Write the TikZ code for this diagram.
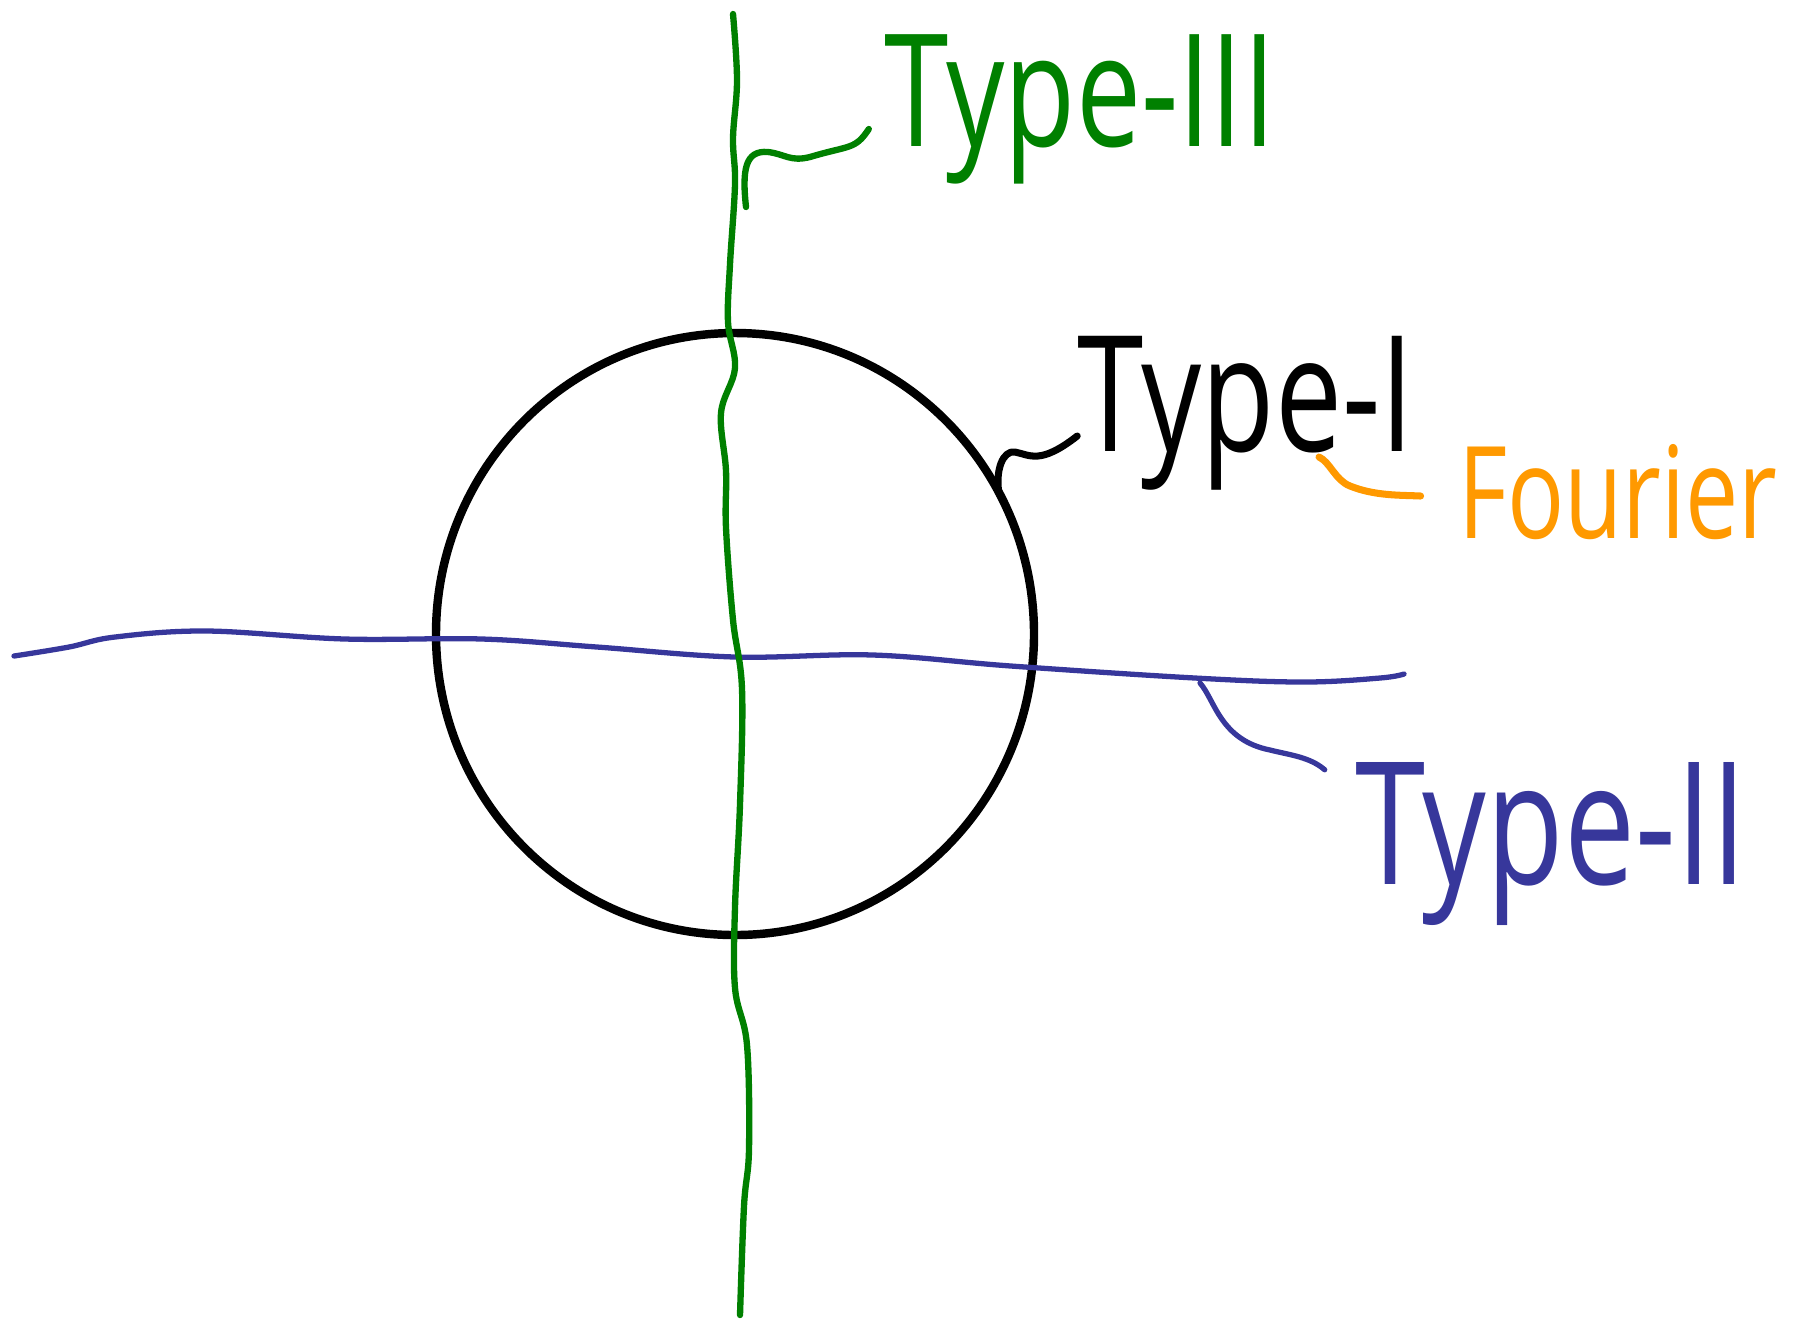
\documentclass[tikz,border=0pt]{standalone}
\usepackage{fontspec}
\setmainfont{Open Sans}
\usepackage{graphicx}
\usepackage{tikz}
\usetikzlibrary{calc}
\definecolor{sketchgreen}{RGB}{0,128,0}
\definecolor{sketchblue}{RGB}{55,55,155}
\definecolor{sketchorange}{RGB}{255,153,0}
\newcommand{\tall}[1]{\scalebox{1}[1.35]{#1}}
\tikzset{
  pen/.style={line cap=round, line join=round},
  hand/.style={inner sep=0pt, font=\fontsize{#1}{#1}\selectfont},
  hand/.default=32
}

\begin{document}
\begin{tikzpicture}[x=0.01cm, y=-0.01cm]
  \useasboundingbox (0,0) rectangle (1801,1320);
  % Unit circle
  \draw[pen, line width=2.4pt] (735,634) ellipse (299 and 301);

  % Real axis, slightly wavy
  \draw[pen, sketchblue, line width=1.5pt] plot[smooth, tension=0.6] coordinates {
    (14,656) (69,647) (115,637) (207,631) (345,639) (482,639) (597,647)
    (735,657) (873,655) (1011,666) (1195,678) (1304,682) (1380,678) (1404,674)};

  % Imaginary axis, slightly wavy
  \draw[pen, sketchgreen, line width=1.8pt] plot[smooth, tension=0.6] coordinates {
    (733,14) (737,80) (733,138) (735,184) (730,264) (728,322) (735,368)
    (721,413) (726,471) (726,528) (733,620) (742,689) (740,804) (735,907)
    (735,988) (747,1045) (749,1149) (744,1206) (740,1315)};

  % Labels
  \node[hand=33, sketchgreen] (typeIII) at (1080,109) {\tall{Type-III}};
  \node[hand=34] (typeI) at (1246,413) {\tall{Type-I}};
  \node[hand=27, sketchorange] (fourier) at (1618,492) {\tall{Fourier}};
  \node[hand=36, sketchblue] (typeII) at (1551,844) {\tall{Type-II}};

  % Ends of the leaders on the curves
  \coordinate (onIm) at (746,207);
  \coordinate (onCirc) at (999,494);
  \coordinate (underI) at (1319,457);
  \coordinate (onRe) at (1200,683);

  % Leaders
  \draw[pen, sketchgreen, line width=1.8pt]
    (onIm) .. controls (742,170) and (745,150) .. (768,152)
    .. controls (785,154) and (790,162) .. (810,157)
    .. controls (850,145) and (855,150) .. ($(typeIII.west)+(-15,20)$);
  \draw[pen, line width=2pt]
    (onCirc) .. controls (995,470) and (1003,450) .. (1015,452)
    .. controls (1030,455) and (1040,465) .. ($(typeI.west)+(0,23)$);
  \draw[pen, sketchorange, line width=2pt]
    (underI) .. controls (1330,462) and (1335,480) .. (1350,486)
    .. controls (1375,496) and (1400,495) .. ($(fourier.west)+(-37,4)$);
  \draw[pen, sketchblue, line width=1.5pt]
    (onRe) .. controls (1215,700) and (1220,740) .. (1270,750)
    .. controls (1290,755) and (1310,757) .. ($(typeII.north west)+(-30,8)$);
\end{tikzpicture}
\end{document}
